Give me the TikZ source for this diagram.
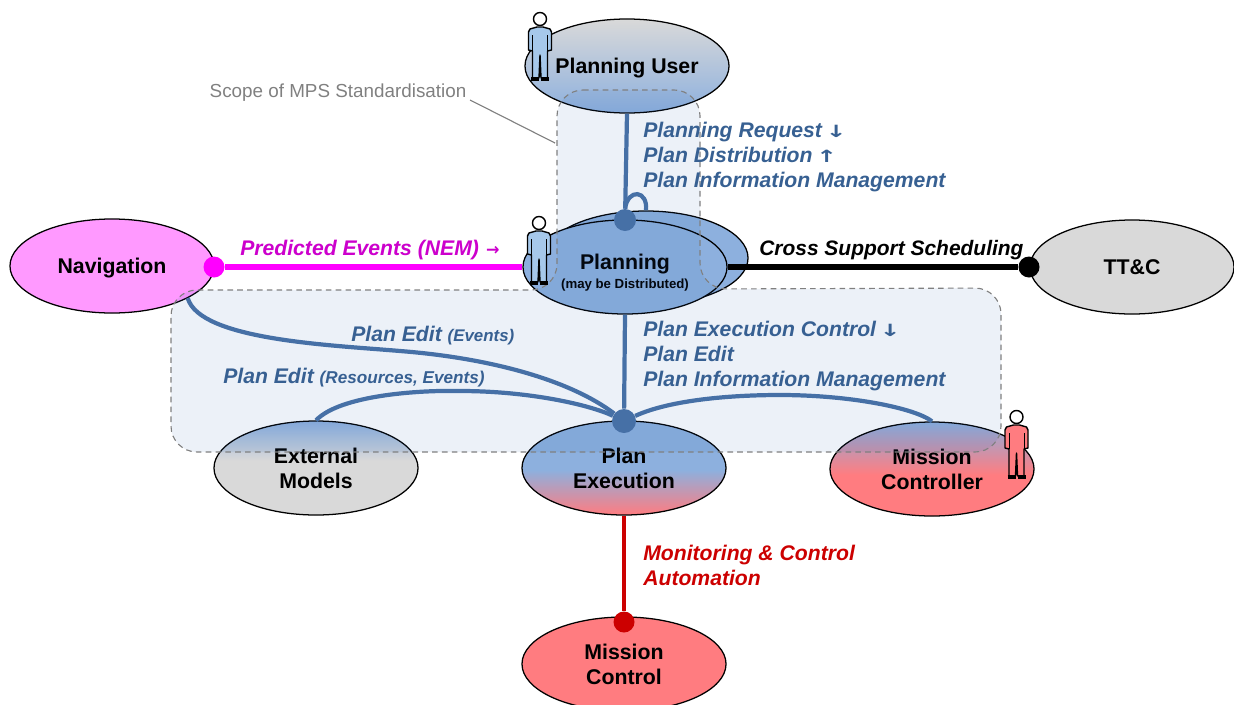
\documentclass[tikz,border=0pt]{standalone}
\usepackage{fontspec}
\setmainfont{Liberation Sans}
\newfontfamily\arrowfont{DejaVu Sans}
\usetikzlibrary{positioning,shapes.geometric}

\definecolor{mpsblue}{HTML}{8DB0DE}
\definecolor{mpslight}{HTML}{A6C8EA}
\definecolor{mpsgray}{HTML}{D9D9D9}
\definecolor{mpsred}{HTML}{FF7C80}
\definecolor{mpspink}{HTML}{FF99FF}
\definecolor{linkblue}{HTML}{4A72A6}
\definecolor{textblue}{HTML}{376092}
\definecolor{linkred}{HTML}{CC0000}
\definecolor{linkpink}{HTML}{FF00FF}
\definecolor{textpink}{HTML}{CC00CC}
\definecolor{scopefill}{HTML}{235FAF}
\definecolor{scopegray}{HTML}{808080}

\pgfdeclareverticalshading{usershade}{100bp}{color(0bp)=(mpsblue); color(25bp)=(mpsblue); color(75bp)=(mpsgray); color(100bp)=(mpsgray)}
\pgfdeclareverticalshading{execshade}{100bp}{color(0bp)=(mpsred); color(25bp)=(mpsred); color(49bp)=(mpsblue); color(100bp)=(mpsblue)}
\pgfdeclareverticalshading{ctrlshade}{100bp}{color(0bp)=(mpsred); color(47bp)=(mpsred); color(75bp)=(mpsblue); color(100bp)=(mpsblue)}
\pgfdeclareverticalshading{modelshade}{100bp}{color(0bp)=(mpsgray); color(54bp)=(mpsgray); color(75bp)=(mpsblue); color(100bp)=(mpsblue)}

\newcommand{\lowered}[2]{\raisebox{-#1}[\height][\depth]{#2}}
\newcommand{\arrowtxt}[1]{\,\scalebox{1.5}[1]{\arrowfont\upshape\fontsize{12}{14}\selectfont #1}}
\newcommand{\sidearrow}{\,\,\scalebox{0.95}[1]{\arrowfont\upshape\fontsize{12}{14}\selectfont →}}

\tikzset{
  oval/.style={ellipse,draw=black,line width=0.9pt,minimum width=5.1cm,minimum height=2.35cm,inner sep=0pt,align=center,
    font=\fontsize{15.15}{17.8}\selectfont\bfseries},
  dot/.style={circle,inner sep=0pt,minimum size=#1},
  link/.style={line width=3pt,linkblue},
  tag/.style={anchor=west,inner sep=0pt,align=left,font=\fontsize{15.05}{17.8}\selectfont\bfseries\itshape},
  pics/person/.style={code={
    \draw[fill=white,line width=1pt] (0,0) circle (6.5);
    \draw[fill=#1,line width=1pt,line join=round] (-3,8) -- (3,8) -- (10,10) -- (11.5,13) -- (11.5,31) -- (7.5,32) -- (7.5,59) -- (1,59) -- (0,36) -- (-1,59) -- (-7.5,59) -- (-7.5,32) -- (-11.5,31) -- (-11.5,13) -- (-10,10) -- cycle;
    \draw[line width=0.7pt] (-7.5,16) -- (-7.5,32) (7.5,16) -- (7.5,32);
    \draw[line width=2.2pt] (-9,60) -- (-1,60) (1,60) -- (9,60);
  }}
}

\begin{document}
\begin{tikzpicture}[x=0.025cm,y=-0.025cm]
    \useasboundingbox (0,0) rectangle (1234,704);

    \node[oval,shading=usershade] (user) at (627,66) {\lowered{1.4pt}{Planning User}};
    \node[oval,fill=mpspink] (nav) at (112,266) {\lowered{1.4pt}{Navigation}};
    \node[oval,fill=mpsblue] (planback) at (646,258) {};
    \node[oval,fill=mpsblue] (plan) at (625,267) {\lowered{4.2pt}{Planning}\\[-4.4pt]\lowered{4.2pt}{\fontsize{9.4}{11}\selectfont (may be Distributed)}};
    \node[oval,fill=mpsgray] (ttc) at (1132,267) {TT\&C};
    \node[oval,shading=modelshade] (models) at (316,468) {External\\Models};
    \node[oval,shading=execshade] (exec) at (624,468) {Plan\\Execution};
    \node[oval,shading=ctrlshade] (controller) at (932,469) {Mission\\Controller};
    \node[oval,fill=mpsred] (control) at (624,664) {Mission\\Control};

    \node[dot=22*0.025cm,fill=linkblue] (dotplan) at (625,220) {};
    \node[dot=24*0.025cm,fill=linkblue] (dotexec) at (624,421) {};
    \node[dot=21*0.025cm,fill=linkpink] (dotnav) at (214,267) {};
    \node[dot=21*0.025cm,fill=black] (dotttc) at (1029,267) {};
    \node[dot=21*0.025cm,fill=linkred] (dotcontrol) at (624,622) {};

    \draw[link] (user.south) -- (dotplan);
    \draw[link] (dotplan.north) .. controls (628,188) and (648,190) .. (planback.north);
    \draw[link] (plan.south) -- (dotexec);
    \draw[link] (nav.-23) .. controls (200,340) and (330,345) .. (400,351) .. controls (490,358) and (570,380) .. (dotexec);
    \draw[link] (models.north) .. controls (340,395) and (420,390) .. (460,391) .. controls (530,391) and (590,405) .. (dotexec);
    \draw[link] (controller.north) .. controls (915,408) and (850,395) .. (780,395) .. controls (730,395) and (670,400) .. (dotexec);
    \draw[line width=3.6pt,linkpink] (dotnav) -- (plan.west);
    \draw[line width=3.6pt,black] (plan.east) -- (dotttc);
    \draw[line width=3pt,linkred] (exec.south) -- (dotcontrol);

    \draw[draw=scopegray,dash pattern=on 4pt off 3pt,line width=0.8pt,fill=scopefill,fill opacity=0.085,rounded corners=0.65cm]
      (557,90) -- (700,90) -- (700,289) -- (1001,288) -- (1001,452) -- (171,452) -- (171,290) -- (557,290) -- cycle;

    \node (scope) at (338,92.5) {\fontsize{13.4}{15}\selectfont\color{scopegray}Scope of MPS Standardisation};
    \coordinate (scopeend) at (555,143);
    \draw[scopegray,line width=0.8pt] (470,100) -- (scopeend);

    \pic (person1) at (540,19) {person=mpslight};
    \pic (person2) at (539,223) {person=mpslight};
    \pic (person3) at (1016.5,417) {person=mpsred};

    \node[tag,textblue] (label1) at (643,157) {Planning Request\arrowtxt{↓}\\Plan Distribution\arrowtxt{↑}\\Plan Information Management};
    \node[tag,textblue] (label2) at (643,356) {Plan Execution Control\arrowtxt{↓}\\Plan Edit\\Plan Information Management};
    \node[tag,textblue] (label3) at (351,336) {Plan Edit {\fontsize{12}{14}\selectfont (Events)}};
    \node[tag,textblue] (label4) at (223,378) {Plan Edit {\fontsize{12.2}{14}\selectfont (Resources, Events)}};
    \node[tag,textpink] (label5) at (240,250) {Predicted Events (NEM)\sidearrow};
    \node[tag,black,font=\fontsize{14.9}{17.8}\selectfont\bfseries\itshape] (label6) at (759,250) {Cross Support Scheduling};
    \node[tag,linkred] (label7) at (643,565) {Monitoring \& Control\\Automation};
\end{tikzpicture}
\end{document}
